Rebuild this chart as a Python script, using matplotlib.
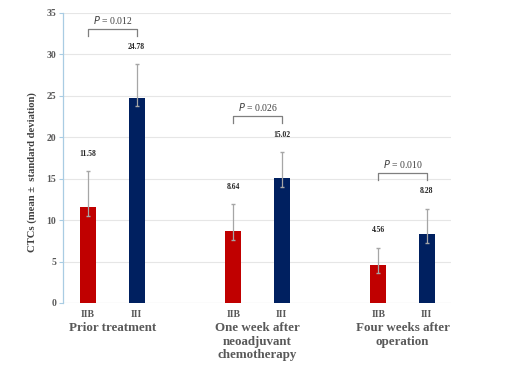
import matplotlib
matplotlib.use("Agg")
import matplotlib.pyplot as plt
import matplotlib.transforms as mtransforms

# Data
groups = ['Prior treatment', 'One week after\nneoadjuvant\nchemotherapy', 'Four weeks after\noperation']
stages = ['IIB', 'III']
iib_means = [11.58, 8.64, 4.56]
iii_means = [24.78, 15.02, 8.28]
iib_err_up = [4.3, 3.3, 2.1]
iii_err_up = [4.0, 3.2, 3.1]
iib_err_down = [1.1, 1.1, 1.0]
iii_err_down = [1.0, 1.0, 1.1]
p_values = ['0.012', '0.026', '0.010']

plt.rcParams['font.family'] = ['Liberation Serif', 'DejaVu Serif']

red = '#C00000'
navy = '#002060'
grey_text = '#595959'

fig = plt.figure(figsize=(5.18, 3.73), dpi=100)
ax = fig.add_axes([0.1216, 0.1877, 0.749, 0.778])

x_iib = [3 * i for i in range(len(groups))]
x_iii = [3 * i + 1 for i in range(len(groups))]
width = 0.33

ax.bar(x_iib, iib_means, width, color=red, zorder=2)
ax.bar(x_iii, iii_means, width, color=navy, zorder=2)
ax.errorbar(x_iib, iib_means, yerr=[iib_err_down, iib_err_up], fmt='none',
            ecolor='#a6a6a6', elinewidth=0.9, capsize=1.2, zorder=3)
ax.errorbar(x_iii, iii_means, yerr=[iii_err_down, iii_err_up], fmt='none',
            ecolor='#a6a6a6', elinewidth=0.9, capsize=1.2, zorder=3)

# value labels above the error bars
for xs, means, ups in [(x_iib, iib_means, iib_err_up), (x_iii, iii_means, iii_err_up)]:
    for x, m, u in zip(xs, means, ups):
        ax.text(x, m + u + 2.1, f'{m:.2f}', ha='center', va='center',
                fontsize=5.5, fontweight='bold', color='#262626')

# significance brackets
for i, p in enumerate(p_values):
    top = max(iib_means[i] + iib_err_up[i], iii_means[i] + iii_err_up[i]) + 4.3
    if i == 0:
        top = 33.0
    ax.plot([x_iib[i], x_iib[i], x_iii[i], x_iii[i]], [top - 0.8, top, top, top - 0.8],
            color='#7f7f7f', lw=0.9, zorder=3)
    ax.text((x_iib[i] + x_iii[i]) / 2, top + 1.1, '$P$ = ' + p, ha='center', va='center',
            fontsize=7, color='#404040')

ax.set_xlim(-0.52, 7.5)
ax.set_ylim(0, 35)
ax.set_yticks(range(0, 36, 5))
ax.yaxis.grid(True, color='#e6e6e6', lw=0.8, zorder=0)
ax.set_axisbelow(True)

for side in ['top', 'right', 'bottom']:
    ax.spines[side].set_visible(False)
ax.spines['left'].set_color('#a9cce3')
ax.spines['left'].set_linewidth(0.9)
ax.axhline(0, color='#d9d9d9', lw=0.8, zorder=1)

ax.tick_params(axis='y', length=3, width=0.8, color='#a9cce3', pad=2,
               labelsize=7, labelcolor=grey_text)
ax.tick_params(axis='x', length=0, pad=5, labelsize=7, labelcolor=grey_text)
for lab in ax.get_yticklabels():
    lab.set_fontweight('bold')

ax.set_xticks(x_iib + x_iii)
ax.set_xticklabels([stages[0]] * 3 + [stages[1]] * 3, fontweight='bold')

ax.set_ylabel('CTCs (mean \u00b1  standard deviation)', fontsize=7.7, fontweight='bold',
              color='#404040')
ax.yaxis.set_label_coords(-0.067, 0.45)

trans = mtransforms.blended_transform_factory(ax.transData, ax.transAxes)
for i, g in enumerate(groups):
    ax.text((x_iib[i] + x_iii[i]) / 2, -0.065, g, transform=trans, ha='center', va='top',
            fontsize=9.4, fontweight='bold', color=grey_text, linespacing=1.2)

fig.savefig('out.png', dpi=100)
